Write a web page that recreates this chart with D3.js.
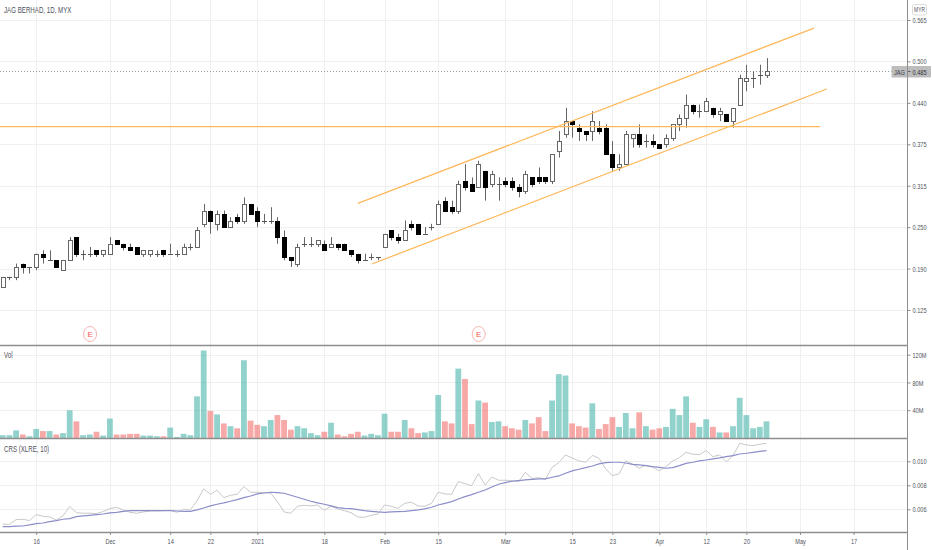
<!DOCTYPE html>
<html><head><meta charset="utf-8">
<script src="https://cdnjs.cloudflare.com/ajax/libs/d3/7.8.5/d3.min.js"></script>
<style>html,body{margin:0;padding:0;background:#fff;overflow:hidden}svg{display:block}text{font-family:"Liberation Sans",sans-serif;fill:#50535c}</style>
</head><body><svg id="c" width="932" height="550"></svg>
<script>
const open=[.16,.175,.175,.195,.19,.19,.21,.20,.20,.185,.20,.235,.21,.21,.215,.21,.21,.23,.225,.22,.22,.21,.21,.21,.215,.21,.21,.21,.22,.22,.255,.275,.255,.27,.25,.265,.26,.285,.275,.26,.26,.26,.235,.205,.195,.225,.225,.225,.225,.22,.225,.225,.215,.21,.20,.205,.205,.22,.245,.235,.23,.255,.255,.24,.25,.255,.29,.28,.275,.32,.315,.31,.335,.315,.315,.32,.32,.31,.305,.325,.325,.325,.32,.365,.39,.41,.40,.395,.395,.40,.40,.36,.34,.345,.385,.39,.38,.38,.375,.375,.385,.405,.415,.435,.425,.425,.43,.42,.42,.41,.435,.47,.475,.48,.48];
const high=[.175,.175,.195,.195,.19,.21,.215,.215,.20,.20,.235,.235,.215,.22,.215,.215,.235,.23,.225,.225,.22,.215,.215,.215,.215,.225,.215,.225,.225,.25,.285,.275,.275,.275,.265,.27,.295,.285,.28,.27,.28,.265,.245,.205,.225,.235,.235,.23,.23,.235,.225,.225,.215,.21,.21,.21,.205,.24,.245,.24,.26,.26,.255,.25,.255,.29,.295,.29,.32,.345,.325,.35,.335,.335,.325,.325,.325,.315,.335,.325,.34,.325,.36,.395,.43,.41,.405,.395,.425,.41,.405,.38,.36,.395,.39,.405,.39,.39,.375,.39,.405,.42,.45,.435,.435,.445,.43,.43,.42,.43,.48,.495,.485,.495,.505];
const low=[.16,.17,.17,.18,.18,.185,.195,.20,.19,.185,.20,.205,.20,.205,.205,.205,.21,.225,.215,.215,.21,.205,.205,.205,.205,.21,.205,.21,.215,.22,.25,.24,.245,.25,.25,.255,.255,.27,.25,.255,.255,.225,.20,.19,.19,.22,.22,.22,.215,.22,.215,.215,.205,.195,.20,.20,.20,.22,.23,.225,.23,.245,.24,.24,.245,.255,.275,.27,.27,.305,.305,.31,.29,.31,.29,.31,.305,.295,.30,.31,.315,.315,.315,.355,.385,.385,.38,.38,.38,.39,.36,.335,.335,.345,.37,.37,.37,.37,.37,.37,.38,.395,.40,.42,.415,.425,.415,.41,.41,.40,.435,.455,.46,.465,.475];
const close=[.175,.175,.19,.19,.19,.21,.205,.20,.19,.20,.23,.21,.21,.21,.21,.215,.225,.225,.22,.215,.21,.215,.215,.21,.21,.21,.21,.22,.22,.245,.275,.26,.27,.25,.26,.26,.285,.27,.26,.26,.26,.235,.205,.20,.22,.225,.225,.23,.215,.225,.22,.215,.21,.20,.20,.205,.205,.24,.235,.23,.245,.25,.24,.24,.25,.285,.275,.275,.315,.31,.305,.345,.31,.33,.315,.315,.31,.305,.33,.315,.32,.32,.36,.38,.41,.405,.395,.39,.41,.395,.36,.34,.345,.39,.39,.375,.38,.375,.37,.385,.405,.415,.435,.425,.425,.44,.42,.425,.41,.43,.475,.475,.475,.48,.485];
const volume=[4,4,11,5,2.5,13,10,10,5,7,40,24,4,5,9,3.5,28,5,5,6,6,3.5,3.5,2.5,2.5,15,1.5,6,4,60,126,39,34,21,17,14,112,25,19,17,26,33,26,12,17,14,7,4,9,22,5,2.5,6,9,3.5,6,4,35,9,9,26,14,7,8,10,62,24,21,100,85,20,54,51,23,24,17,14,12,26,21,30,10,54,92,90,21,17,15,50,13,20,30,16,36,14,37,17,12,14,16,42,33,60,22,16,27,16,8,8,17,58,33,14,16,24];
const crs=[.00475,.00475,.00514,.00517,.00506,.00556,.00542,.00536,.00511,.00545,.00625,.00572,.00567,.00567,.00564,.00581,.00606,.00617,.00595,.00575,.00567,.00578,.00586,.00586,.00589,.00592,.00575,.00600,.00595,.00670,.00770,.00725,.00759,.00697,.00717,.00725,.00789,.00742,.00742,.00739,.00734,.00664,.00578,.00567,.00625,.00633,.00628,.00636,.00592,.00625,.00603,.00589,.00572,.00536,.00533,.00550,.00561,.00636,.00625,.00608,.00650,.00659,.00628,.00625,.00650,.00742,.00728,.00725,.00831,.00814,.00797,.00897,.00803,.00870,.00842,.00842,.00839,.00831,.00909,.00856,.00864,.00850,.00950,.00989,.01053,.01028,.01003,.00992,.01050,.01025,.00936,.00881,.00895,.01003,.00978,.00942,.00967,.00950,.00922,.00956,.01003,.01031,.01075,.01059,.01056,.01089,.01039,.01053,.00995,.01047,.01150,.01136,.01131,.01142,.01150];
const crsAvg=[.00456,.00456,.00459,.00461,.00470,.00481,.00486,.00497,.00506,.00517,.00522,.00539,.00545,.00550,.00556,.00561,.00570,.00575,.00583,.00589,.00589,.00589,.00589,.00589,.00589,.00589,.00586,.00583,.00583,.00595,.00611,.00628,.00642,.00653,.00667,.00681,.00697,.00711,.00728,.00736,.00742,.00739,.00734,.00717,.00700,.00684,.00667,.00653,.00642,.00628,.00614,.00608,.00606,.00597,.00589,.00583,.00578,.00575,.00578,.00581,.00583,.00589,.00595,.00603,.00617,.00636,.00650,.00664,.00686,.00706,.00722,.00742,.00761,.00786,.00809,.00822,.00834,.00839,.00845,.00850,.00853,.00853,.00867,.00878,.00900,.00920,.00934,.00947,.00961,.00978,.00989,.00992,.00992,.00986,.00975,.00970,.00964,.00956,.00950,.00942,.00947,.00964,.00983,.00992,.01003,.01011,.01020,.01028,.01039,.01047,.01061,.01067,.01075,.01083,.01089];
const priceTicks=[.5625,.5,.4375,.375,.3125,.25,.1875,.125];
const priceLabels=["0.565","0.500","0.440","0.375","0.315","0.250","0.190","0.125"];
const volTicks=[40,80,120];
const crsTicks=[.006,.008,.010];
const timeTicks=[5,16,25,31,38,48,57,65,75,85,91,98,105,111,119,127];
const timeLabels=["16","Dec","14","22","2021","18","Feb","15","Mar","15","23","Apr","12","20","May","17"];
const trendLines=[[53,.286,121.1,.5504],[55.1,.1944,123,.4584],[-1,.4015,122,.4015]];
const earnings=[13,71];
const lastPrice=.485;

const W=907.5,pBot=345,vBot=438,cBot=532;
const svg=d3.select("#c");
const x=d3.scaleLinear().domain([0,114]).range([2.7,766.5]);
const yP=d3.scaleLinear().domain([.125,.5625]).range([310,20]);
const yV=d3.scaleLinear().domain([0,120]).range([vBot,354.7]);
const yC=d3.scaleLinear().domain([.006,.010]).range([509.3,461.3]);
const GRID="#f0f0f1",AX="#8e8e8e",TXT="#50535c";

// grid
const grid=svg.append("g").attr("stroke",GRID).attr("stroke-width",1);
grid.selectAll("line.v").data(timeTicks).join("line").attr("class","v")
 .attr("x1",d=>Math.round(x(d))+.5).attr("x2",d=>Math.round(x(d))+.5).attr("y1",0).attr("y2",cBot);
function hgrid(vals,s){grid.selectAll(null).data(vals).join("line")
 .attr("x1",0).attr("x2",W).attr("y1",d=>Math.round(s(d))+.5).attr("y2",d=>Math.round(s(d))+.5);}
hgrid(priceTicks,yP);hgrid(volTicks,yV);hgrid(crsTicks,yC);

// last price dotted
svg.append("line").attr("x1",0).attr("x2",W).attr("y1",Math.round(yP(lastPrice))+.5).attr("y2",Math.round(yP(lastPrice))+.5)
 .attr("stroke","#9a9a9a").attr("stroke-dasharray","1 2");

// candles
const idx=d3.range(open.length);
const cg=svg.append("g");
cg.selectAll("line").data(idx).join("line")
 .attr("x1",i=>Math.round(x(i))+.5).attr("x2",i=>Math.round(x(i))+.5)
 .attr("y1",i=>yP(high[i])).attr("y2",i=>yP(low[i])).attr("stroke","#666").attr("stroke-width",1);
const isDoji=i=>close[i]===open[i];
const bodyTop=i=>Math.round(yP(Math.max(open[i],close[i])));
const bodyBot=i=>Math.round(yP(Math.min(open[i],close[i])));
cg.selectAll("rect.body").data(idx.filter(i=>!isDoji(i))).join("rect").attr("class","body")
 .attr("x",i=>Math.round(x(i))-1.5).attr("width",4)
 .attr("y",i=>bodyTop(i)+.5).attr("height",i=>bodyBot(i)-bodyTop(i))
 .attr("fill",i=>close[i]<open[i]?"#000":"#fff")
 .attr("stroke",i=>close[i]<open[i]?"#000":"#666");
cg.selectAll("line.doji").data(idx.filter(isDoji)).join("line").attr("class","doji")
 .attr("x1",i=>Math.round(x(i))-2).attr("x2",i=>Math.round(x(i))+3)
 .attr("y1",i=>bodyTop(i)+.5).attr("y2",i=>bodyTop(i)+.5).attr("stroke","#555");

// trend lines
svg.append("g").selectAll("line").data(trendLines).join("line")
 .attr("x1",d=>x(d[0])).attr("y1",d=>yP(d[1])).attr("x2",d=>x(d[2])).attr("y2",d=>yP(d[3]))
 .attr("stroke","#ffb95e").attr("stroke-width",1.3);

// earnings marks
const eg=svg.append("g").selectAll("g").data(earnings).join("g").attr("transform",i=>`translate(${x(i)+.3},334)`);
eg.append("ellipse").attr("rx",6.5).attr("ry",7.5).attr("fill","#fff").attr("stroke","#f9b5b3").attr("stroke-width",1);
eg.append("text").attr("text-anchor","middle").attr("y",3).attr("font-size",8).style("fill","#ef5350").text("E");

// volume
svg.append("g").selectAll("rect").data(idx).join("rect")
 .attr("x",i=>x(i)-2.9).attr("width",5.8)
 .attr("y",i=>yV(volume[i])).attr("height",i=>vBot-yV(volume[i]))
 .attr("fill",i=>close[i]<open[i]?"rgba(239,83,80,.5)":"rgba(38,166,154,.5)");

// crs lines
const ln=a=>d3.line().x((d,i)=>x(i)).y(d=>yC(d))(a);
svg.append("path").attr("d",ln(crs)).attr("fill","none").attr("stroke","#c9c9c9").attr("stroke-width",1);
svg.append("path").attr("d",ln(crsAvg)).attr("fill","none").attr("stroke","#8c8dca").attr("stroke-width",1.2);

// panel dividers
[pBot,vBot,cBot].forEach(y=>svg.append("line").attr("x1",0).attr("y1",y+.5).attr("y2",y+.5)
 .attr("x2",W).attr("stroke",AX).attr("stroke-width",1.3));
svg.append("line").attr("x1",W).attr("x2",W).attr("y1",0).attr("y2",550).attr("stroke",AX).attr("stroke-width",1);

// axes
function styleAxis(g){g.select(".domain").remove();g.selectAll("line").attr("stroke",AX);
 g.selectAll("text").attr("font-size",8).style("fill",TXT);}
svg.append("g").attr("transform",`translate(${W},0)`)
 .call(d3.axisRight(yP).tickValues(priceTicks).tickSize(3).tickPadding(2).tickFormat((d,i)=>priceLabels[i])).call(styleAxis);
svg.append("g").attr("transform",`translate(${W},0)`)
 .call(d3.axisRight(yV).tickValues(volTicks).tickSize(3).tickPadding(2).tickFormat(d=>d+"M")).call(styleAxis);
svg.append("g").attr("transform",`translate(${W},0)`)
 .call(d3.axisRight(yC).tickValues(crsTicks).tickSize(3).tickPadding(2).tickFormat(d3.format(".3f"))).call(styleAxis);
svg.append("g").attr("transform",`translate(0,${cBot})`)
 .call(d3.axisBottom(x).tickValues(timeTicks).tickSize(3).tickPadding(3).tickFormat((d,i)=>timeLabels[i])).call(styleAxis);

// titles
const label=(t,px,py,fs)=>svg.append("text").attr("x",px).attr("y",py).attr("font-size",fs).text(t);
label("JAG BERHAD, 1D, MYX",4,13,8.8);
label("Vol",4,358,8.8);
label("CRS (XLRE, 10)",4,452,8.8);

// price tag
const yTag=Math.round(yP(lastPrice))+.5;
svg.append("rect").attr("x",891.5).attr("y",yTag-5.5).attr("width",39.5).attr("height",11.5).attr("rx",1).attr("fill","#bdbdbd");
svg.append("line").attr("x1",W).attr("x2",W+3).attr("y1",yTag).attr("y2",yTag).attr("stroke","#5d606b");
svg.append("line").attr("x1",W).attr("x2",W).attr("y1",yTag-5.5).attr("y2",yTag+6).attr("stroke",AX);
svg.append("text").attr("x",899.5).attr("y",yTag+3).attr("text-anchor","middle").attr("font-size",8).style("fill","#3a3d45").text("JAG");
svg.append("text").attr("x",912.5).attr("y",yTag+3).attr("font-size",8).style("fill","#2e3038").text("0.485");

// currency box
svg.append("rect").attr("x",912.5).attr("y",4.5).attr("width",14).attr("height",10.5).attr("rx",2).attr("fill","#fff").attr("stroke","#dcdcdc");
svg.append("text").attr("x",919.5).attr("y",12.3).attr("text-anchor","middle").attr("font-size",7).style("fill",TXT).text("MYR");

// condense all labels: the reference face is narrower than the installed one
svg.selectAll("text").each(function(){
  if(this.textContent==="E")return;
  const n=this.getComputedTextLength();
  d3.select(this).attr("textLength",(n*.7).toFixed(2)).attr("lengthAdjust","spacingAndGlyphs");
});
</script></body></html>
